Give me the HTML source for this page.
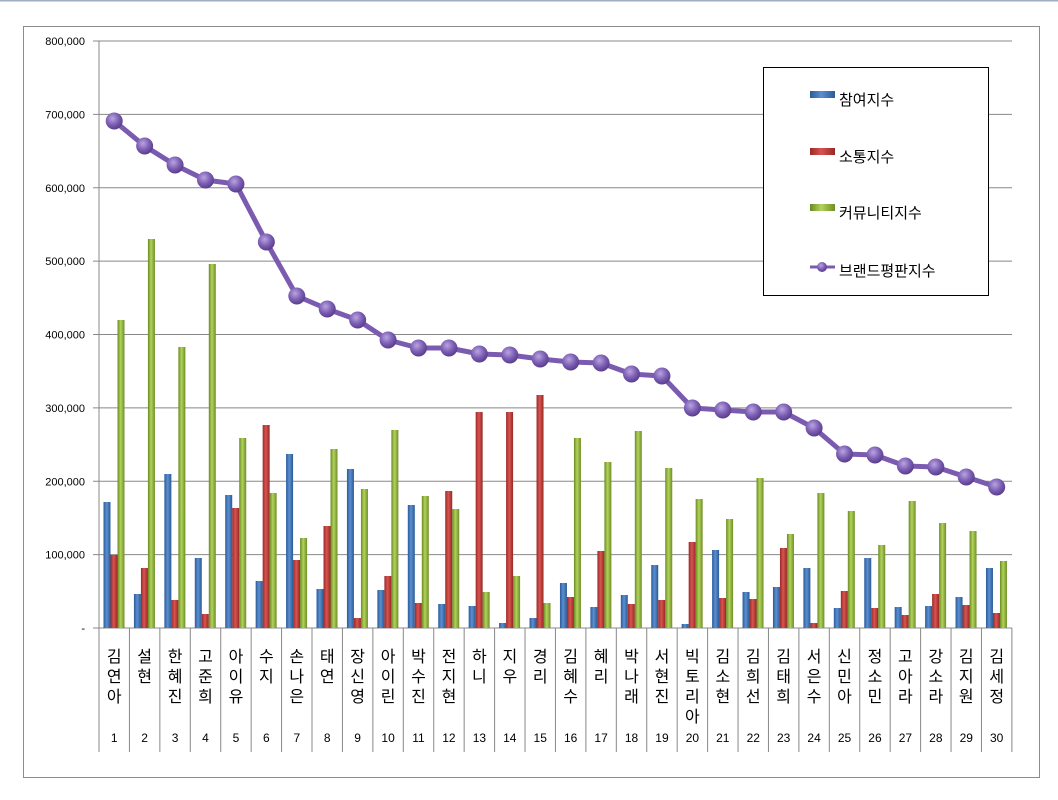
<!DOCTYPE html>
<html><head><meta charset="utf-8"><style>
html,body{margin:0;padding:0;background:#fff;width:1058px;height:800px;overflow:hidden}
svg text{font-family:"Liberation Sans","Noto Sans CJK KR","NanumGothic",sans-serif}
</style></head><body>
<svg id="c" width="1058" height="800" xmlns="http://www.w3.org/2000/svg">
<defs>
<linearGradient id="gb" x1="0" x2="1"><stop offset="0" stop-color="#2a5a9a"/><stop offset="0.45" stop-color="#5b8fd0"/><stop offset="1" stop-color="#2b5b95"/></linearGradient>
<linearGradient id="gr" x1="0" x2="1"><stop offset="0" stop-color="#9a2a28"/><stop offset="0.45" stop-color="#d85450"/><stop offset="1" stop-color="#962826"/></linearGradient>
<linearGradient id="gg" x1="0" x2="1"><stop offset="0" stop-color="#6a8a24"/><stop offset="0.45" stop-color="#b2d35a"/><stop offset="1" stop-color="#6e8e28"/></linearGradient>
<radialGradient id="gp" cx="0.4" cy="0.35" r="0.65"><stop offset="0" stop-color="#b9a4e0"/><stop offset="0.6" stop-color="#7a5cb2"/><stop offset="1" stop-color="#5a3f8c"/></radialGradient>
</defs>
<line x1="0" y1="0.5" x2="1058" y2="0.5" stroke="#a0afc0" stroke-width="2"/>
<rect x="23.5" y="26.5" width="1016" height="751" fill="#fff" stroke="#8c8c8c"/>
<g id="g"></g>
</svg>
<script>
const g=document.getElementById('g');let s='';
const y0=628,k=73.375;
for(let i=0;i<=8;i++){const y=y0-i*k;s+=`<line x1="93" x2="1012" y1="${y}" y2="${y}" stroke="#888" stroke-width="1"/>`;
s+=`<text x="85" y="${y+4}" font-size="11" text-anchor="end" fill="#000">${i==0?'-':(i*100)+',000'}</text>`;}
s+=`<line x1="99" x2="99" y1="41" y2="628" stroke="#888"/>`;
const W=30.43,X0=99;
const names=['김연아','설현','한혜진','고준희','아이유','수지','손나은','태연','장신영','아이린','박수진','전지현','하니','지우','경리','김혜수','혜리','박나래','서현진','빅토리아','김소현','김희선','김태희','서은수','신민아','정소민','고아라','강소라','김지원','김세정'];
const B=[502,594,474,558,495,581,454,589,469,590,505,604,606,623,618,583,607,595,565,624,550,592,587,568,608,558,607,606,597,568];
const R=[555,568,600,614,508,425,560,526,618,576,603,491,412,412,395,597,551,604,600,542,598,599,548,623,591,608,615,594,605,613];
const G=[320,239,347,264,438,493,538,449,489,430,496,509,592,576,603,438,462,431,468,499,519,478,534,493,511,545,501,523,531,561];
const L=[121,146,165,180,184,242,296,309,320,340,348,348,354,355,359,362,363,374,376,408,410,412,412,428,454,455,466,467,477,487];
for(let i=0;i<30;i++){const x=X0+i*W;
 s+=`<line x1="${x+W}" x2="${x+W}" y1="628" y2="752" stroke="#888"/>`;
 [[B,'gb'],[R,'gr'],[G,'gg']].forEach((a,j)=>{const bx=x+4.5+j*7;const t=a[0][i];s+=`<rect x="${bx}" y="${t}" width="7" height="${628-t}" fill="url(#${a[1]})"/>`;});
 const n=names[i];for(let c=0;c<n.length;c++)s+=`<text x="${x+W/2}" y="${662+c*20}" font-size="16" text-anchor="middle">${n[c]}</text>`;
 s+=`<text x="${x+W/2}" y="742" font-size="12" text-anchor="middle">${i+1}</text>`;
}
s+=`<line x1="99" x2="99" y1="628" y2="752" stroke="#888"/>`;
let p=L.map((y,i)=>`${X0+i*W+W/2},${y}`).join(' ');
s+=`<polyline points="${p}" fill="none" stroke="#7b5bb0" stroke-width="5" stroke-linejoin="round"/>`;
L.forEach((y,i)=>{s+=`<circle cx="${X0+i*W+W/2}" cy="${y}" r="8.5" fill="url(#gp)"/>`;});
s+=`<rect x="763.5" y="67.5" width="225" height="228" fill="#fff" stroke="#000"/>`;
const lg=[['gb','참여지수',91],['gr','소통지수',148],['gg','커뮤니티지수',204]];
lg.forEach(l=>{s+=`<rect x="810" y="${l[2]}" width="25" height="7" fill="url(#${l[0]})"/><text x="839" y="${l[2]+14}" font-size="15">${l[1]}</text>`;});
s+=`<line x1="810" x2="835" y1="267" y2="267" stroke="#7b5bb0" stroke-width="3"/><circle cx="822" cy="267" r="5" fill="url(#gp)"/><text x="839" y="276" font-size="15">브랜드평판지수</text>`;
g.innerHTML=s;
</script>
</body></html>
